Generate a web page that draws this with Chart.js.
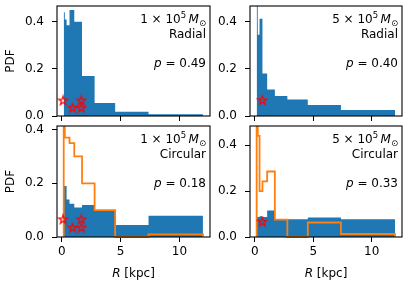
<!DOCTYPE html>
<html><head><meta charset="utf-8">
<script src="https://cdn.jsdelivr.net/npm/chart.js@4/dist/chart.umd.min.js"></script>
<style>
html,body{margin:0;padding:0;background:#fff;}
body{width:408px;height:286px;position:relative;overflow:hidden;}
canvas{position:absolute;}
</style></head><body>
<canvas id="c0" width="216" height="122" style="left:0px;top:0px"></canvas>
<canvas id="c1" width="208" height="122" style="left:200px;top:0px"></canvas>
<canvas id="c2" width="216" height="166" style="left:0px;top:120px"></canvas>
<canvas id="c3" width="208" height="166" style="left:200px;top:120px"></canvas>
<script>
// ---- data ----
const binEdges = [0.15, 0.244, 0.397, 0.646, 1.05, 1.71, 2.78, 4.53, 7.37, 12.0];
const pdfRadial1e5   = [0.44, 0.41, 0.385, 0.45, 0.40, 0.17, 0.055, 0.018, 0.007];
const pdfRadial5e5   = [0.90, 0.345, 0.413, 0.18, 0.112, 0.085, 0.07, 0.047, 0.026];
const pdfCircular1e5 = [0.19, 0.19, 0.14, 0.124, 0.11, 0.119, 0.10, 0.045, 0.079];
const pdfCircular5e5 = [0.087, 0.087, 0.09, 0.087, 0.115, 0.076, 0.077, 0.085, 0.077];
const modelCircular1e5 = [1.0, 0.37, 0.37, 0.35, 0.30, 0.20, 0.10, 0.0, 0.01];
const modelCircular5e5 = [1.0, 0.44, 0.20, 0.242, 0.285, 0.076, 0.0, 0.063, 0.013];
const starR1e5   = [0.1, 0.9, 1.65, 1.65];
const starPdf1e5 = [0.066, 0.035, 0.066, 0.035];
const starR5e5   = [0.64];
const starPdf5e5 = [0.067];
const massMantissa = ['1', '5', '1', '5'];
const orbitLabels  = ['Radial', 'Radial', 'Circular', 'Circular'];
const pValues      = ['0.49', '0.40', '0.18', '0.33'];
const xTickValues = [0, 5, 10];
const yTickValues = [0, 0.2, 0.4];
const xLabel = 'R';
const xUnit = ' [kpc]';
const yLabel = 'PDF';

const BLUE = '#1f77b4', ORANGE = '#ff7f0e', FONT = '"DejaVu Sans"';

function histPath(edges, values) {
  const pts = [{x: edges[0], y: 0}];
  values.forEach((v, i) => { pts.push({x: edges[i], y: v}); pts.push({x: edges[i + 1], y: v}); });
  pts.push({x: edges[edges.length - 1], y: 0});
  return pts;
}

// star marker image
const starImg = document.createElement('canvas');
starImg.width = 12; starImg.height = 12;
(function () {
  const c = starImg.getContext('2d');
  const cx = 6, cy = 6.3, R = 4.7, r = R * 0.381966;
  c.beginPath();
  for (let k = 0; k < 10; k++) {
    const a = -Math.PI / 2 + k * Math.PI / 5;
    const rad = k % 2 ? r : R;
    const px = cx + rad * Math.cos(a), py = cy + rad * Math.sin(a);
    k ? c.lineTo(px, py) : c.moveTo(px, py);
  }
  c.closePath();
  c.strokeStyle = '#ff0000'; c.lineWidth = 1.2; c.lineJoin = 'miter';
  c.stroke();
})();

const panelPlugin = {
  id: 'panelDeco',
  afterDraw(chart) {
    const o = chart.options.plugins.panelDeco;
    const ctx = chart.ctx, a = chart.chartArea;
    ctx.save();
    ctx.strokeStyle = '#000'; ctx.lineWidth = 1.1;
    ctx.strokeRect(a.left, a.top, a.right - a.left, a.bottom - a.top);
    ctx.fillStyle = '#000'; ctx.textBaseline = 'alphabetic'; ctx.textAlign = 'left';
    const right = a.right - 4;
    const parts = [
      {t: o.mass + ' \u00d7 10', f: '12px ' + FONT, dy: 0},
      {t: '5', f: '8.5px ' + FONT, dy: -5},
      {t: '\u2009', f: '12px ' + FONT, dy: 0},
      {t: 'M', f: 'italic 12px ' + FONT, dy: 0},
      {t: '\u2299', f: '8.5px ' + FONT, dy: 2.5}
    ];
    let w = 0;
    parts.forEach(p => { ctx.font = p.f; p.w = ctx.measureText(p.t).width; w += p.w; });
    let x = right - w;
    const y1 = a.top + 17;
    parts.forEach(p => { ctx.font = p.f; ctx.fillText(p.t, x, y1 + p.dy); x += p.w; });
    ctx.font = '12px ' + FONT; ctx.textAlign = 'right';
    ctx.fillText(o.kind, right, a.top + 32);
    const pv = ' = ' + o.p;
    ctx.font = '12px ' + FONT; const wv = ctx.measureText(pv).width;
    ctx.fillText(pv, right, a.top + 61);
    ctx.font = 'italic 12px ' + FONT; ctx.fillText('p', right - wv, a.top + 61);
    if (o.xlabel) {
      ctx.textAlign = 'left';
      ctx.font = 'italic 12px ' + FONT; const wr = ctx.measureText(xLabel).width;
      ctx.font = '12px ' + FONT; const wu = ctx.measureText(xUnit).width;
      const cx = (a.left + a.right) / 2 - (wr + wu) / 2;
      const yb = a.bottom + 39.5;
      ctx.font = 'italic 12px ' + FONT; ctx.fillText(xLabel, cx, yb);
      ctx.font = '12px ' + FONT; ctx.fillText(xUnit, cx + wr, yb);
    }
    ctx.restore();
  }
};

function zeroPad(s) { s.paddingLeft = 0; s.paddingRight = 0; s.paddingTop = 0; s.paddingBottom = 0; }

function makePanel(id, cfg) {
  const datasets = [];
  datasets.push({
    data: cfg.starR.map((r, i) => ({x: r, y: cfg.starPdf[i]})),
    showLine: false, pointStyle: starImg, pointRadius: 5, clip: false
  });
  if (cfg.model) {
    datasets.push({
      data: histPath(binEdges, cfg.model), borderColor: ORANGE, borderWidth: 1.8,
      pointRadius: 0, fill: false, tension: 0, borderJoinStyle: 'miter',
      clip: {left: 2, right: 2, top: 0, bottom: 2}
    });
  }
  datasets.push({
    data: histPath(binEdges, cfg.pdf), borderColor: 'rgba(0,0,0,0)', borderWidth: 0,
    backgroundColor: BLUE, fill: 'origin', pointRadius: 0, tension: 0, clip: 0
  });
  new Chart(document.getElementById(id), {
    type: 'line',
    data: {datasets},
    plugins: [panelPlugin],
    options: {
      responsive: false, animation: false, devicePixelRatio: 1,
      layout: {padding: {left: 0, top: 3, right: 4, bottom: 0}},
      plugins: {legend: {display: false}, tooltip: {enabled: false},
        panelDeco: {mass: cfg.mass, kind: cfg.kind, p: cfg.p, xlabel: cfg.bottom}},
      scales: {
        x: {
          type: 'linear', min: -0.42, max: 12.6,
          afterBuildTicks: s => { s.ticks = xTickValues.map(v => ({value: v})); },
          afterFit: s => { s.height = cfg.bottom ? 49 : 6; zeroPad(s); },
          ticks: {display: cfg.bottom, color: '#000', font: {family: 'DejaVu Sans', size: 12},
            padding: 3, maxRotation: 0, autoSkip: false, callback: v => String(v)},
          grid: {drawOnChartArea: false, drawTicks: true, tickLength: 5, color: '#000', lineWidth: 1},
          border: {display: false}
        },
        y: {
          type: 'linear', min: 0, max: cfg.ymax,
          afterBuildTicks: s => { s.ticks = yTickValues.map(v => ({value: v})); },
          afterFit: s => { s.width = cfg.left ? 57 : 50; zeroPad(s); },
          ticks: {color: '#000', font: {family: 'DejaVu Sans', size: 12}, padding: 8,
            autoSkip: false, callback: v => v.toFixed(1)},
          grid: {drawOnChartArea: false, drawTicks: true, tickLength: 5, color: '#000', lineWidth: 1},
          border: {display: false},
          title: {display: cfg.left, text: yLabel, color: '#000',
            font: {family: 'DejaVu Sans', size: 12}, padding: {top: 4, bottom: 0}}
        }
      }
    }
  });
}

makePanel('c0', {pdf: pdfRadial1e5, model: null, starR: starR1e5, starPdf: starPdf1e5,
  mass: massMantissa[0], kind: orbitLabels[0], p: pValues[0], ymax: 0.467, left: true, bottom: false});
makePanel('c1', {pdf: pdfRadial5e5, model: null, starR: starR5e5, starPdf: starPdf5e5,
  mass: massMantissa[1], kind: orbitLabels[1], p: pValues[1], ymax: 0.467, left: false, bottom: false});
makePanel('c2', {pdf: pdfCircular1e5, model: modelCircular1e5, starR: starR1e5, starPdf: starPdf1e5,
  mass: massMantissa[2], kind: orbitLabels[2], p: pValues[2], ymax: 0.4135, left: true, bottom: true});
makePanel('c3', {pdf: pdfCircular5e5, model: modelCircular5e5, starR: starR5e5, starPdf: starPdf5e5,
  mass: massMantissa[3], kind: orbitLabels[3], p: pValues[3], ymax: 0.483, left: false, bottom: true});
</script>
</body></html>
